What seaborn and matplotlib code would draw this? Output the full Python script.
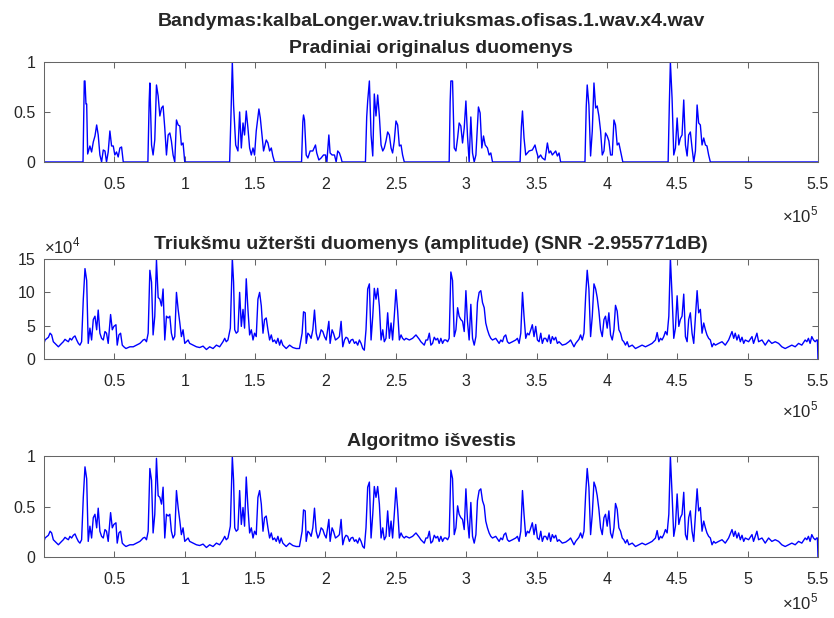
import numpy as np
import matplotlib
matplotlib.use("Agg")
import matplotlib.pyplot as plt
import seaborn as sns

# sample positions in thousands of samples

# clean speech envelope (top panel)
clean_pos = [0, 27.7, 28.6, 29.1, 29.8, 30.3, 31.0, 32.6, 33.8, 35.0, 36.2, 37.4, 38.5, 39.7, 40.9, 42.1, 43.3,
             44.4, 45.6, 46.8, 48.0, 49.2, 50.3, 51.5, 52.7, 53.9, 55.1, 56.3,
             73.8, 74.7, 75.2, 76.4, 77.5, 78.7, 79.9, 81.1, 82.3, 83.5, 84.6, 85.8, 87.0, 88.2, 89.4, 90.5,
             91.7, 92.9, 94.1, 95.3, 96.5, 97.6, 98.8, 100.0,
             131.9, 132.9, 133.8, 134.7, 136.2, 137.8, 139.0, 140.2, 141.4, 142.5, 143.7, 144.9, 146.1, 147.3,
             148.5, 149.6, 150.8, 152.7, 153.7, 155.1, 156.0, 157.9, 159.1, 160.3, 161.5, 162.6, 163.8,
             183.0, 183.9, 184.4, 185.1, 186.3, 187.5, 189.1, 191.0, 192.9, 193.8, 195.3, 196.9, 198.6, 200.0,
             201.0, 202.4, 203.3, 204.7, 206.4, 207.6, 208.7, 209.9, 211.1, 211.8,
             228.4, 229.3, 230.0, 231.2, 232.4, 233.6, 234.7, 235.9, 237.1, 238.3, 239.5, 240.7, 241.8, 243.0,
             244.2, 245.4, 246.6, 247.7, 248.9, 250.1, 251.3, 252.5, 253.7, 254.8, 256.0,
             287.9, 288.6, 289.1, 290.3, 291.5, 292.7, 293.9, 295.0, 296.2, 297.4, 298.6, 299.8, 300.9, 302.1,
             303.3, 304.5, 305.7, 306.9, 308.7, 309.9, 311.1, 312.3, 313.5, 315.1, 316.3, 317.5, 318.7,
             338.3, 339.2, 340.0, 341.1, 342.3, 343.5, 344.7, 347.0, 348.9, 349.9, 351.3, 352.9, 354.1, 356.0,
             357.7, 358.9, 360.0, 361.2, 363.6, 364.8, 366.0, 367.1,
             384.4, 385.3, 386.0, 387.2, 388.4, 389.6, 390.8, 392.0, 393.1, 394.3, 395.5, 396.7, 397.9, 399.0,
             400.2, 401.4, 402.6, 403.8, 405.0, 406.1, 407.3, 408.5, 409.7, 411.3,
             443.5, 444.4, 445.1, 446.3, 447.5, 448.7, 449.9, 451.1, 452.2, 453.4, 454.6, 455.8, 457.0, 458.1,
             459.3, 460.5, 461.7, 462.9, 464.1, 465.2, 466.4, 467.6, 468.8, 470.0, 471.1, 472.3, 473.5, 550.0]
clean_val = [0, 0, 0.81, 0.81, 0.58, 0.58, 0.08, 0.16, 0.10, 0.20, 0.26, 0.37, 0.27, 0.07, 0.0, 0.12, 0.11,
             0.0, 0.10, 0.31, 0.16, 0.16, 0.07, 0.10, 0.05, 0.14, 0.15, 0.0,
             0, 0.60, 0.79, 0.17, 0.07, 0.22, 0.77, 0.66, 0.46, 0.54, 0.56, 0.34, 0.07, 0.27, 0.29, 0.21,
             0.07, 0.0, 0.42, 0.37, 0.36, 0.17, 0.19, 0.0,
             0, 0.50, 1.0, 0.57, 0.17, 0.11, 0.50, 0.14, 0.39, 0.27, 0.51, 0.34, 0.14, 0.07,
             0.14, 0.07, 0.31, 0.53, 0.44, 0.24, 0.11, 0.22, 0.19, 0.11, 0.14, 0.06, 0.0,
             0, 0.40, 0.47, 0.42, 0.07, 0.04, 0.11, 0.11, 0.17, 0.09, 0.02, 0.04, 0.07, 0.07,
             0.0, 0.27, 0.09, 0.07, 0.07, 0.0, 0.11, 0.09, 0.04, 0.0,
             0, 0.45, 0.61, 0.81, 0.27, 0.06, 0.68, 0.46, 0.67, 0.46, 0.17, 0.11, 0.14, 0.21,
             0.30, 0.27, 0.14, 0.09, 0.21, 0.41, 0.37, 0.16, 0.17, 0.07, 0.0,
             0, 0.60, 0.81, 0.81, 0.14, 0.11, 0.24, 0.39, 0.36, 0.19, 0.34, 0.61, 0.27, 0.0,
             0.45, 0.09, 0.0, 0.07, 0.55, 0.49, 0.14, 0.26, 0.17, 0.14, 0.07, 0.09, 0.0,
             0, 0.35, 0.51, 0.24, 0.07, 0.09, 0.11, 0.12, 0.17, 0.11, 0.04, 0.07, 0.04, 0.02,
             0.19, 0.09, 0.11, 0.07, 0.11, 0.06, 0.09, 0.0,
             0, 0.55, 0.77, 0.57, 0.06, 0.31, 0.79, 0.54, 0.56, 0.46, 0.31, 0.07, 0.11, 0.29,
             0.26, 0.21, 0.07, 0.07, 0.42, 0.37, 0.17, 0.19, 0.11, 0.0,
             0, 0.60, 1.0, 0.64, 0.07, 0.14, 0.44, 0.17, 0.24, 0.27, 0.62, 0.17, 0.06, 0.27,
             0.30, 0.14, 0.0, 0.11, 0.57, 0.39, 0.37, 0.17, 0.24, 0.17, 0.16, 0.07, 0.0, 0.0]

# noisy amplitude (middle panel), values in units of 1e4
noisy_pos = [0, 0.7, 3.1, 4.3, 5.4, 6.6, 7.8, 9.0, 10.2, 11.3, 12.5, 13.7, 14.9, 16.1, 17.3, 18.4, 19.6,
             20.8, 22.0, 23.2, 24.4, 25.5, 26.7, 27.9, 29.1, 30.3, 31.4, 32.6, 33.8, 35.0, 36.2, 37.4, 38.5,
             39.7, 40.9, 42.1, 43.3, 44.4, 45.6, 47.3, 48.5, 49.6, 51.1, 52.0, 53.2, 54.4, 55.6, 56.7, 58.2,
             59.8, 61.0, 63.4, 65.7, 68.1, 69.3, 70.4, 71.6, 72.8, 74.0, 75.2, 76.4, 77.5, 78.7, 79.9, 81.1,
             82.3, 83.5, 84.6, 85.8, 87.0, 88.2, 89.4, 90.5, 91.7, 92.9, 94.1, 95.3, 96.5, 97.6, 98.8, 100.0,
             101.2, 102.4, 103.5, 105.9, 108.3, 110.6, 113.0, 115.4, 117.7, 120.1, 122.5, 124.8, 127.2, 128.4,
             129.5, 130.7, 132.4, 133.8, 134.7, 135.5, 136.6, 137.8, 139.0, 140.2, 141.4, 142.5, 143.7, 144.9,
             146.1, 147.3, 148.5, 149.6, 150.8, 152.0, 153.2, 154.4, 155.6, 156.7, 157.9, 159.1, 160.3, 161.5,
             162.6, 163.8, 165.0, 166.2, 167.4, 168.5, 169.7, 172.1, 174.5, 176.8, 179.2, 181.5, 183.4, 184.4,
             185.6, 186.3, 187.5, 188.6, 189.8, 191.0, 192.2, 193.4, 194.6, 195.7, 196.9, 198.1, 199.3, 200.5,
             202.4, 203.3, 204.7, 205.7, 207.1, 208.7, 209.9, 211.1, 212.3, 213.5, 214.6, 215.8, 217.0, 218.2,
             219.4, 220.6, 221.7, 222.9, 224.1, 225.3, 226.5, 227.6, 228.8, 230.0, 231.2, 232.4, 233.6, 234.7,
             235.9, 237.1, 238.3, 239.5, 240.7, 241.8, 243.0, 244.2, 245.4, 246.6, 247.7, 248.9, 250.1, 251.3,
             252.5, 253.7, 254.8, 256.0, 257.2, 259.6, 261.9, 264.3,
             266.7, 267.8, 269.0, 270.2, 271.4, 272.6, 273.8, 274.9, 276.1, 277.3, 278.5, 279.7, 280.8, 282.0,
             283.2, 284.4, 285.6, 286.8, 287.9, 289.1, 290.3, 291.5, 292.7, 293.9, 295.0, 296.2, 297.4, 298.6,
             299.8, 300.9, 302.1, 303.3, 304.5, 305.7, 306.9, 308.0, 309.2, 310.4, 311.6, 312.8, 313.9, 315.1,
             316.3, 317.5, 318.7, 321.0, 323.4, 324.6, 325.8, 326.9, 328.1, 329.3, 330.5, 332.9, 335.2, 336.4,
             337.6, 338.8, 340.0, 341.1, 342.3, 343.5, 344.7, 345.9, 347.0, 348.2, 349.4, 350.6, 351.8, 353.0,
             354.1, 355.3, 356.5, 357.7, 358.9, 360.0, 361.2, 362.4, 363.6, 364.8, 366.0, 368.3, 370.7, 373.0,
             374.2, 375.4, 376.6, 377.8, 380.1, 381.3, 382.5, 383.7, 384.9, 386.0, 387.2, 388.4, 389.6, 390.8,
             392.0, 393.1, 394.3, 395.5, 396.7, 397.9, 399.0, 400.2, 401.4, 402.6, 403.8, 405.0, 406.1, 407.3,
             408.5, 409.7, 410.9, 412.0, 413.2, 414.4, 415.6, 418.0, 420.3, 422.7, 425.0, 427.4, 429.8, 432.1,
             434.5, 435.7, 436.9, 438.1, 439.2, 440.4, 441.6, 442.8, 444.0, 445.1, 446.3, 447.5, 448.7, 449.9,
             451.1, 452.2, 453.4, 454.6, 455.8, 457.0, 458.1, 459.3, 460.5, 461.7, 462.9, 464.1, 465.2, 466.4,
             467.6, 468.8, 470.0, 471.1, 472.3, 473.5, 474.7, 475.9, 477.1, 479.4, 481.8, 484.1, 486.5, 488.9,
             490.1, 491.2, 492.4, 493.6, 494.8, 496.0, 497.2, 498.3, 500.7, 503.1, 504.2, 506.6, 507.8, 510.2,
             512.5, 514.9, 517.2, 519.6, 522.0, 524.3, 526.7, 529.1, 531.4, 533.8, 536.2, 538.5, 540.9, 542.1,
             543.2, 544.4, 545.6, 546.8, 548.0, 549.1, 549.6, 550.0]
noisy_val = [2.35, 2.86, 3.27, 3.88, 3.62, 2.60, 2.35, 2.09, 1.84, 2.09, 2.35, 2.60, 2.96, 2.76, 2.60, 3.11, 2.86,
             3.27, 3.47, 2.86, 2.35, 2.09, 2.60, 8.98, 13.57, 11.79, 2.35, 4.64, 2.86, 5.92, 6.43, 4.39, 7.35,
             3.88, 3.11, 2.86, 4.13, 3.88, 2.35, 6.68, 4.39, 4.90, 5.15, 2.09, 3.62, 3.88, 2.09, 1.84, 1.58,
             1.73, 1.84, 1.84, 2.09, 2.35, 2.60, 2.86, 2.96, 2.60, 3.88, 13.32, 11.53, 3.62, 6.43, 14.85, 9.23,
             8.98, 7.96, 10.51, 2.86, 6.43, 6.17, 6.43, 3.88, 2.86, 3.37, 10.0, 7.45, 5.41, 3.37, 4.39, 2.35,
             2.60, 2.86, 2.35, 2.09, 1.84, 1.73, 1.94, 1.43, 1.84, 1.58, 2.09, 1.84, 2.60, 3.11,
             2.60, 2.86, 4.64, 15.1, 11.53, 4.39, 3.88, 4.13, 10.0, 4.90, 7.45, 4.64, 12.04, 7.45,
             3.62, 4.39, 2.86, 3.88, 3.37, 8.98, 10.0, 7.96, 3.88, 5.92, 6.17, 4.39, 2.86, 3.62,
             2.60, 2.86, 2.35, 3.11, 2.09, 2.86, 2.09, 1.58, 2.09, 1.73, 1.58, 1.58, 3.88, 7.09,
             6.94, 2.35, 3.88, 3.62, 3.11, 4.39, 7.35, 3.88, 2.86, 3.37, 4.39, 4.13, 3.37, 2.86,
             5.66, 2.35, 4.39, 3.88, 2.86, 3.11, 3.37, 5.66, 1.84, 2.86, 3.27, 3.11, 2.35, 2.86,
             2.96, 2.35, 2.60, 2.09, 2.86, 2.35, 1.58, 1.33, 4.39, 10.51, 11.28, 2.86, 6.43, 10.61,
             8.98, 10.61, 7.96, 2.86, 4.39, 2.60, 3.11, 6.94, 3.11, 5.41, 2.86, 6.43, 10.41, 7.19,
             2.86, 3.62, 3.11, 2.86, 3.11, 2.86, 3.11, 3.62,
             2.96, 2.60, 2.35, 2.09, 2.86, 2.86, 3.88, 2.09, 2.35, 3.27, 2.86, 3.11, 2.35, 3.11,
             2.35, 2.86, 2.86, 2.60, 3.11, 13.06, 11.79, 3.37, 4.39, 7.70, 6.43, 5.92, 5.66, 4.13,
             10.26, 5.66, 2.86, 8.21, 3.11, 2.09, 3.37, 8.47, 10.0, 10.26, 8.47, 7.70, 5.41, 4.39,
             3.62, 3.11, 2.86, 3.11, 2.35, 2.86, 2.60, 3.37, 3.62, 2.60, 2.35, 2.60, 2.86, 3.11,
             2.35, 3.88, 10.0, 6.43, 3.11, 3.88, 3.62, 4.39, 5.15, 3.37, 4.90, 2.86, 2.60, 3.88,
             2.35, 3.11, 3.11, 2.60, 3.62, 2.35, 3.37, 2.86, 3.27, 2.35, 2.60, 2.09, 2.24, 2.60,
             2.86, 2.35, 1.84, 2.35, 2.96, 3.62, 2.86, 3.88, 9.49, 13.32, 10.51, 3.37, 6.43, 11.28,
             10.51, 9.23, 7.19, 4.39, 3.37, 5.92, 6.43, 4.64, 6.94, 3.62, 2.86, 4.39, 8.06, 7.19,
             4.39, 3.88, 2.86, 2.60, 2.09, 2.60, 1.84, 2.09, 1.58, 1.84, 2.09, 1.84, 2.09, 2.35,
             2.86, 3.98, 2.60, 3.11, 2.86, 3.37, 4.13, 3.62, 6.43, 15.2, 9.49, 3.11, 4.64, 9.49,
             4.90, 5.92, 6.43, 9.74, 3.37, 2.60, 5.92, 6.94, 3.88, 2.35, 6.43, 10.26, 6.94, 7.45,
             3.88, 5.41, 4.39, 3.62, 3.11, 2.86, 1.84, 2.35, 2.09, 2.35, 2.60, 2.09, 2.86, 4.13,
             3.11, 3.88, 2.86, 3.62, 2.60, 3.27, 2.35, 2.86, 2.60, 3.37, 2.35, 3.88, 2.60, 2.86,
             2.09, 2.86, 2.35, 2.60, 2.35, 1.84, 1.58, 1.84, 2.09, 1.84, 2.35, 2.09, 2.86, 2.60,
             3.11, 2.35, 3.37, 2.86, 2.60, 2.86, 2.86, 0.0]

title_top = "Bandymas:kalbaLonger.wav.triuksmas.ofisas.1.wav.x4.wav\nPradiniai originalus duomenys"
title_mid = "Triukšmu užteršti duomenys (amplitude) (SNR -2.955771dB)"
title_bot = "Algoritmo išvestis"
x_ticks = [50000, 100000, 150000, 200000, 250000, 300000, 350000, 400000, 450000, 500000, 550000]
x_ticklabels = ["0.5", "1", "1.5", "2", "2.5", "3", "3.5", "4", "4.5", "5", "5.5"]

clean_x = np.array(clean_pos) * 1000
noisy_x = np.array(noisy_pos) * 1000
noisy_y = np.array(noisy_val) * 1e4
algo_y = noisy_y / noisy_y.max()  # algorithm output is the normalised noisy envelope

sns.set_theme(style="ticks")
plt.rcParams['font.family'] = ['Liberation Sans', 'DejaVu Sans']
plt.rcParams['mathtext.fontset'] = 'custom'
plt.rcParams['mathtext.rm'] = 'Liberation Sans'
plt.rcParams['xtick.direction'] = 'in'
plt.rcParams['ytick.direction'] = 'in'
plt.rcParams['xtick.top'] = True
plt.rcParams['ytick.right'] = True

gray = '#262626'
frame = '#666666'
fig = plt.figure(figsize=(8.34, 6.18), dpi=100)
ax1 = fig.add_axes([0.0528, 0.7379, 0.928, 0.1618])
ax2 = fig.add_axes([0.0528, 0.4190, 0.928, 0.1618])
ax3 = fig.add_axes([0.0528, 0.0987, 0.928, 0.1634])

sns.lineplot(x=clean_x, y=clean_val, ax=ax1, color='#0000ff', linewidth=1.0)
sns.lineplot(x=noisy_x, y=noisy_y, ax=ax2, color='#0000ff', linewidth=1.0)
sns.lineplot(x=noisy_x, y=algo_y, ax=ax3, color='#0000ff', linewidth=1.0)

for ax, off in ((ax1, -0.60), (ax2, -0.58), (ax3, -0.52)):
    ax.set_xlim(0, 550000)
    ax.set_xticks(x_ticks)
    ax.set_xticklabels(x_ticklabels)
    ax.tick_params(labelsize=11.5, labelcolor=gray, color=frame, length=4, width=0.75)
    ax.tick_params(axis='x', pad=11)
    ax.tick_params(axis='y', pad=6)
    for sp in ax.spines.values():
        sp.set_color(frame)
        sp.set_linewidth(0.75)
    ax.text(1.0, off, r'$\times10^5$', transform=ax.transAxes, ha='right', va='baseline',
            fontsize=12, color=gray)

ax1.set_ylim(0, 1)
ax1.set_yticks([0, 0.5, 1])
ax1.set_yticklabels(["0", "0.5", "1"])
ax3.set_ylim(0, 1)
ax3.set_yticks([0, 0.5, 1])
ax3.set_yticklabels(["0", "0.5", "1"])
ax2.set_ylim(0, 150000)
ax2.set_yticks([0, 50000, 100000, 150000])
ax2.set_yticklabels(["0", "5", "10", "15"])
ax2.text(0.0, 1.06, r'$\times10^4$', transform=ax2.transAxes, ha='left', va='baseline',
         fontsize=12, color=gray)

ax1.set_title(title_top, fontsize=14, fontweight='bold', pad=6.5, linespacing=1.8)
ax2.set_title(title_mid, fontsize=14, fontweight='bold', pad=7.5)
ax3.set_title(title_bot, fontsize=14, fontweight='bold', pad=7)

fig.savefig("out.png", dpi=100)
